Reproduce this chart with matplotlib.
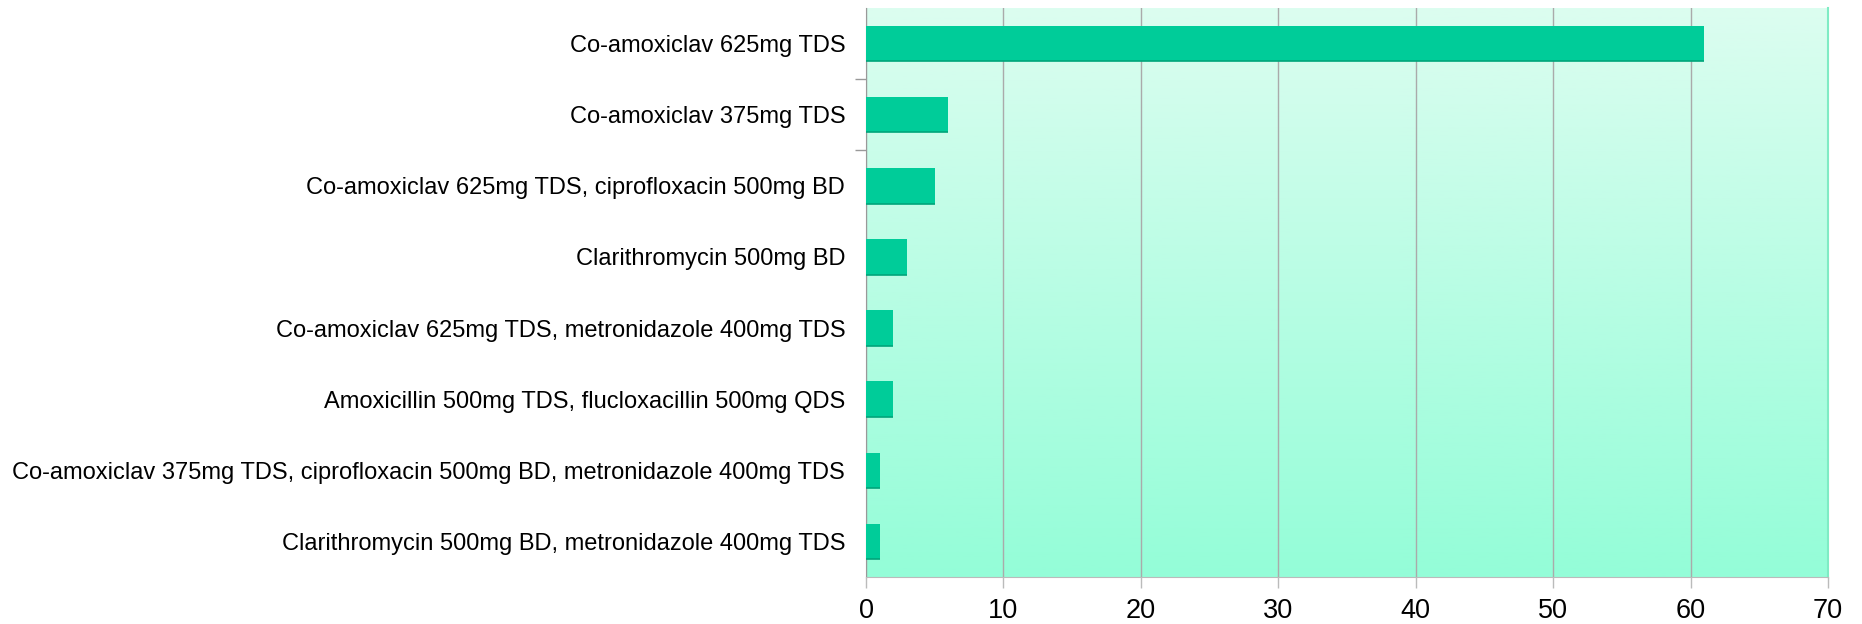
import numpy as np
import matplotlib.pyplot as plt
from matplotlib.colors import LinearSegmentedColormap

plt.rcParams['font.family'] = ['Liberation Sans', 'DejaVu Sans']

regimens = [
    "Co-amoxiclav 625mg TDS",
    "Co-amoxiclav 375mg TDS",
    "Co-amoxiclav 625mg TDS, ciprofloxacin 500mg BD",
    "Clarithromycin 500mg BD",
    "Co-amoxiclav 625mg TDS, metronidazole 400mg TDS",
    "Amoxicillin 500mg TDS, flucloxacillin 500mg QDS",
    "Co-amoxiclav 375mg TDS, ciprofloxacin 500mg BD, metronidazole 400mg TDS",
    "Clarithromycin 500mg BD, metronidazole 400mg TDS",
]
counts = [61, 6, 5, 3, 2, 2, 1, 1]
xticks = [0, 10, 20, 30, 40, 50, 60, 70]

fig = plt.figure(figsize=(18.62, 6.24), dpi=100)
ax = fig.add_axes([866 / 1862, 1 - 577 / 624, (1828 - 866) / 1862, (577 - 8) / 624])

# gradient background
cmap = LinearSegmentedColormap.from_list('bg', ['#dcfdf0', '#94fdd8'])
grad = np.linspace(0, 1, 256).reshape(-1, 1)
ax.imshow(grad, cmap=cmap, aspect='auto', extent=[0, 1, 0, 1],
          transform=ax.transAxes, zorder=0)

y = np.arange(len(regimens))
ax.barh(y, counts, height=0.5, color='#00cc99', zorder=3)
# darker bottom edge of each bar
ax.hlines(y + 0.25, 0, counts, color='#00a57a', lw=1.2, zorder=4)

ax.set_xlim(0, 70)
ax.set_ylim(len(regimens) - 0.5, -0.5)
ax.set_xticks(xticks)
ax.set_xticklabels([str(t) for t in xticks], fontsize=19.5)
ax.set_yticks(y)
ax.set_yticklabels(regimens, fontsize=17)
ax.tick_params(axis='y', length=0, pad=15)
# only the top two separators show a tick in the original
ax.set_yticks([0.5, 1.5], minor=True)
ax.tick_params(axis='y', which='minor', length=8, color='#999999', width=1)
ax.tick_params(axis='x', length=8, color='#bbbbbb', width=1, pad=7)

ax.grid(axis='x', color='#aaaaaa', lw=1, zorder=1)
ax.set_axisbelow(True)

ax.spines['top'].set_visible(False)
ax.spines['left'].set_color('#999999')
ax.spines['bottom'].set_color('#bbbbbb')
ax.spines['right'].set_color('#7fecc4')
ax.spines['right'].set_linewidth(1.5)

fig.savefig('out.png', dpi=100)
